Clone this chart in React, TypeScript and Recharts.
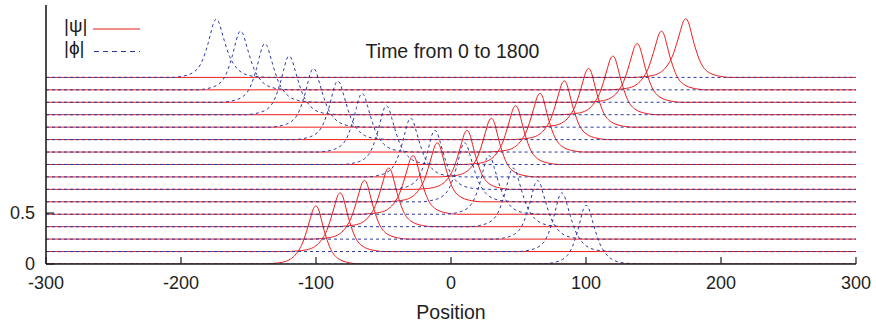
import React from 'react';
import { ComposedChart, Line, XAxis, YAxis } from 'recharts';

// time slices (0 .. 1800)
const times = [0, 120, 240, 360, 480, 600, 720, 840, 960, 1080, 1200, 1320, 1440, 1560, 1680, 1800];
// vertical offset (baseline) of each slice
const baselines = [0, 0.122, 0.244, 0.366, 0.488, 0.61, 0.732, 0.854, 0.976, 1.098, 1.22, 1.342, 1.464, 1.586, 1.708, 1.83];
// peak positions
const psiPeaks = [-100, -82, -64, -46, -28, -10, 12, 30, 48, 66, 84, 102, 120, 138, 156, 174];
const phiPeaks = [100, 82, 64, 46, 28, 10, -12, -30, -48, -66, -84, -102, -120, -138, -156, -174];
// peak heights
const psiAmps = [0.57, 0.575, 0.575, 0.575, 0.575, 0.578, 0.578, 0.575, 0.575, 0.575, 0.575, 0.575, 0.575, 0.575, 0.575, 0.575];
const phiAmps = [0.575, 0.575, 0.575, 0.575, 0.575, 0.578, 0.578, 0.575, 0.575, 0.575, 0.575, 0.575, 0.575, 0.575, 0.575, 0.57];
// pulse profile read from a single peak (offset from peak, relative height); positive = leading side
const profileOffsets = [-40, -32, -25, -20, -16, -13, -10, -8, -6, -4, -2, 0, 2, 4, 6, 8, 10, 13, 16, 20, 25, 32];
const profileValues = [0, 0.01, 0.03, 0.07, 0.14, 0.23, 0.36, 0.49, 0.64, 0.8, 0.95, 1, 0.93, 0.76, 0.58, 0.43, 0.3, 0.17, 0.1, 0.05, 0.02, 0];

const xTicks = [-300, -200, -100, 0, 100, 200, 300];
const yTicksLeft = [0, 0.5];
const yTicksRight = [0.5];
const xDomain = [-300, 300];
const yDomain = [0, 2.54];

const FONT = '"Liberation Sans", Arial, Helvetica, sans-serif';
const INK = '#1e1e1e';
const RED = '#ee1c1c';
const BLUE = '#2a38a0';

function buildSlice(i: number, peak: number, amp: number, dir: number) {
  const base = baselines[i];
  const pts = profileOffsets.map((o, k) => ({ x: peak + dir * o, y: base + amp * profileValues[k] }));
  pts.sort((a, b) => a.x - b.x);
  return [{ x: xDomain[0], y: base }, ...pts, { x: xDomain[1], y: base }];
}

const psiSeries = times.map((_, i) => buildSlice(i, psiPeaks[i], psiAmps[i], 1));
const phiSeries = times.map((_, i) => buildSlice(i, phiPeaks[i], phiAmps[i], -1));

const BottomTick = (props: any) => {
  const { x, y, payload } = props;
  return (
    <g>
      <line x1={x} x2={x} y1={y} y2={y - 7} stroke={INK} strokeWidth={1.2} />
      <text x={x} y={y + 25} textAnchor="middle" fontSize={18} fill={INK} fontFamily={FONT}>
        {payload.value}
      </text>
    </g>
  );
};

const TopTick = (props: any) => {
  const { x, y } = props;
  return <line x1={x} x2={x} y1={y} y2={y + 7} stroke={INK} strokeWidth={1.2} />;
};

const LeftTick = (props: any) => {
  const { x, y, payload } = props;
  return (
    <g>
      <line x1={x} x2={x + 8} y1={y} y2={y} stroke={INK} strokeWidth={1.2} />
      <text x={x - 11} y={y + 5.5} textAnchor="end" fontSize={18} fill={INK} fontFamily={FONT}>
        {payload.value}
      </text>
    </g>
  );
};

const RightTick = (props: any) => {
  const { x, y } = props;
  return <line x1={x} x2={x - 6} y1={y} y2={y} stroke={INK} strokeWidth={1.2} />;
};

export default function App() {
  return (
    <div style={{ position: 'fixed', left: 0, top: 0, width: 876, height: 325, background: '#fff' }}>
      <ComposedChart width={876} height={325} margin={{ top: 5, right: 20, bottom: 0, left: 0 }}>
        <XAxis
          xAxisId="b"
          type="number"
          dataKey="x"
          domain={xDomain}
          ticks={xTicks}
          allowDataOverflow
          height={61}
          tickSize={0}
          tickMargin={0}
          tickLine={false}
          tick={<BottomTick />}
          axisLine={{ stroke: INK, strokeWidth: 1.6 }}
          interval={0}
          label={{ value: 'Position', position: 'insideBottom', offset: 6, fontSize: 19.5, fill: INK, fontFamily: FONT }}
        />
        <XAxis
          xAxisId="t"
          orientation="top"
          type="number"
          dataKey="x"
          domain={xDomain}
          ticks={xTicks}
          allowDataOverflow
          height={0}
          tickSize={0}
          tickMargin={0}
          tickLine={false}
          tick={<TopTick />}
          axisLine={{ stroke: INK, strokeWidth: 1.6 }}
          interval={0}
        />
        <YAxis
          yAxisId="l"
          type="number"
          domain={yDomain}
          ticks={yTicksLeft}
          allowDataOverflow
          width={46}
          tickSize={0}
          tickMargin={0}
          tickLine={false}
          tick={<LeftTick />}
          axisLine={{ stroke: INK, strokeWidth: 1.6 }}
          interval={0}
        />
        <YAxis
          yAxisId="r"
          orientation="right"
          type="number"
          domain={yDomain}
          ticks={yTicksRight}
          allowDataOverflow
          width={0}
          tickSize={0}
          tickMargin={0}
          tickLine={false}
          tick={<RightTick />}
          axisLine={{ stroke: INK, strokeWidth: 1.6 }}
          interval={0}
        />
        {psiSeries.map((d, i) => (
          <Line
            key={'psi' + i}
            xAxisId="b"
            yAxisId="l"
            data={d}
            dataKey="y"
            type="monotone"
            stroke={RED}
            strokeWidth={1}
            dot={false}
            activeDot={false}
            isAnimationActive={false}
          />
        ))}
        {phiSeries.map((d, i) => (
          <Line
            key={'phi' + i}
            xAxisId="b"
            yAxisId="l"
            data={d}
            dataKey="y"
            type="monotone"
            stroke={BLUE}
            strokeWidth={1}
            strokeDasharray="3 3"
            dot={false}
            activeDot={false}
            isAnimationActive={false}
          />
        ))}
      </ComposedChart>
      <svg width={876} height={325} style={{ position: 'absolute', left: 0, top: 0, pointerEvents: 'none' }}>
        <text x={64} y={31.5} fontSize={19} fill={INK} fontFamily={FONT}>|ψ|</text>
        <line x1={93} x2={140} y1={29} y2={29} stroke={RED} strokeWidth={1.2} />
        <text x={64} y={54} fontSize={19} fill={INK} fontFamily={FONT}>|ϕ|</text>
        <line x1={94} x2={140} y1={51.5} y2={51.5} stroke={BLUE} strokeWidth={1.2} strokeDasharray="5 4" />
        <text x={452.5} y={58.3} textAnchor="middle" fontSize={19.5} fill={INK} fontFamily={FONT}>Time from 0 to 1800</text>
      </svg>
    </div>
  );
}
